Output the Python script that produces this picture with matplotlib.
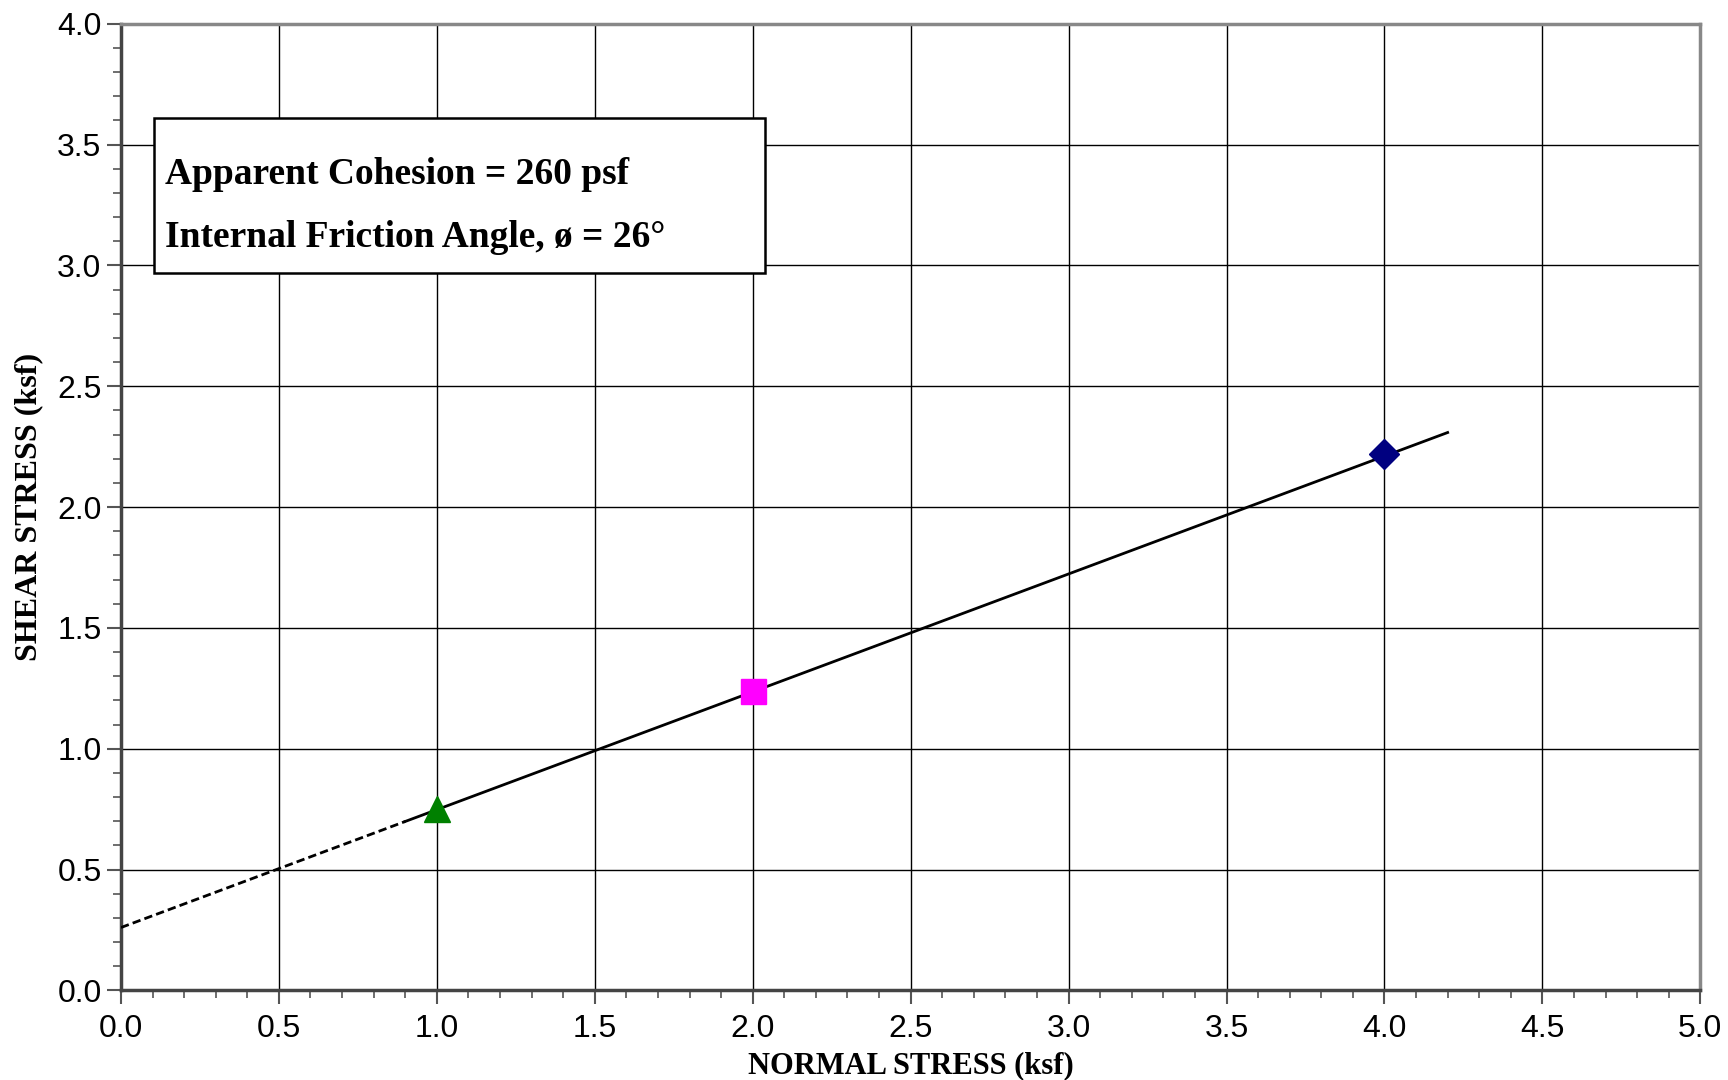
import matplotlib.pyplot as plt
from matplotlib.patches import Rectangle
from matplotlib.ticker import MultipleLocator
import numpy as np

# test results (normal stress, shear stress) in ksf
normal = [1.0, 2.0, 4.0]
shear = [0.75, 1.24, 2.22]
markers = ['^', 's', 'D']
colors = ['#008000', '#FF00FF', '#000080']
sizes = [19, 18, 15]

cohesion = 0.26  # ksf
phi = 26.0       # degrees
x_dash = [0.0, 0.9]
x_solid = [0.9, 4.2]

box_lines = ["Apparent Cohesion = 260 psf",
             "Internal Friction Angle, \u00f8 = 26\u00b0"]

fig = plt.figure(figsize=(17.28, 10.8), dpi=100)
ax = fig.add_axes([0.070, 0.083, 0.914, 0.895])

slope = np.tan(np.radians(phi))
ax.plot(x_dash, [cohesion + slope * x for x in x_dash], color='black',
        lw=2, ls=(0, (3, 1.5)), zorder=3)
ax.plot(x_solid, [cohesion + slope * x for x in x_solid], color='black',
        lw=2, zorder=3)

for x, y, m, c, s in zip(normal, shear, markers, colors, sizes):
    ax.plot(x, y, marker=m, color=c, markersize=s, ls='none', zorder=4)

ax.set_xlim(0, 5)
ax.set_ylim(0, 4)
ax.xaxis.set_major_locator(MultipleLocator(0.5))
ax.yaxis.set_major_locator(MultipleLocator(0.5))
ax.xaxis.set_minor_locator(MultipleLocator(0.1))
ax.yaxis.set_minor_locator(MultipleLocator(0.1))
ax.xaxis.set_major_formatter(lambda v, p: f"{v:.1f}")
ax.yaxis.set_major_formatter(lambda v, p: f"{v:.1f}")
ax.grid(True, which='major', color='black', lw=1)
ax.set_axisbelow(True)

ax.tick_params(which='major', direction='out', length=10, width=1.5,
               colors='#555555', labelcolor='black', labelsize=23)
ax.tick_params(axis='x', which='major', pad=7)
ax.tick_params(axis='y', which='major', pad=4)
ax.tick_params(which='minor', direction='out', length=6, width=1.2,
               colors='#555555')
for lab in ax.get_xticklabels() + ax.get_yticklabels():
    lab.set_fontfamily('Liberation Sans')

for sp in ax.spines.values():
    sp.set_color('#888888')
    sp.set_linewidth(2.5)
ax.spines['left'].set_color('#444444')
ax.spines['bottom'].set_color('#444444')

ax.set_xlabel("NORMAL STRESS (ksf)", fontsize=22, fontweight='bold',
              family='Liberation Serif', labelpad=5)
ax.set_ylabel("SHEAR STRESS (ksf)", fontsize=23, fontweight='bold',
              family='Liberation Serif', labelpad=10)

rect = Rectangle((0.105, 2.97), 1.935, 0.64, facecolor='white',
                 edgecolor='black', lw=1.8, zorder=5)
ax.add_patch(rect)
ax.text(0.14, 3.375, box_lines[0], fontsize=27, fontweight='bold',
        family='Liberation Serif', va='center', zorder=6)
ax.text(0.14, 3.115, box_lines[1], fontsize=27, fontweight='bold',
        family='Liberation Serif', va='center', zorder=6)

fig.savefig("out.png", dpi=100)
